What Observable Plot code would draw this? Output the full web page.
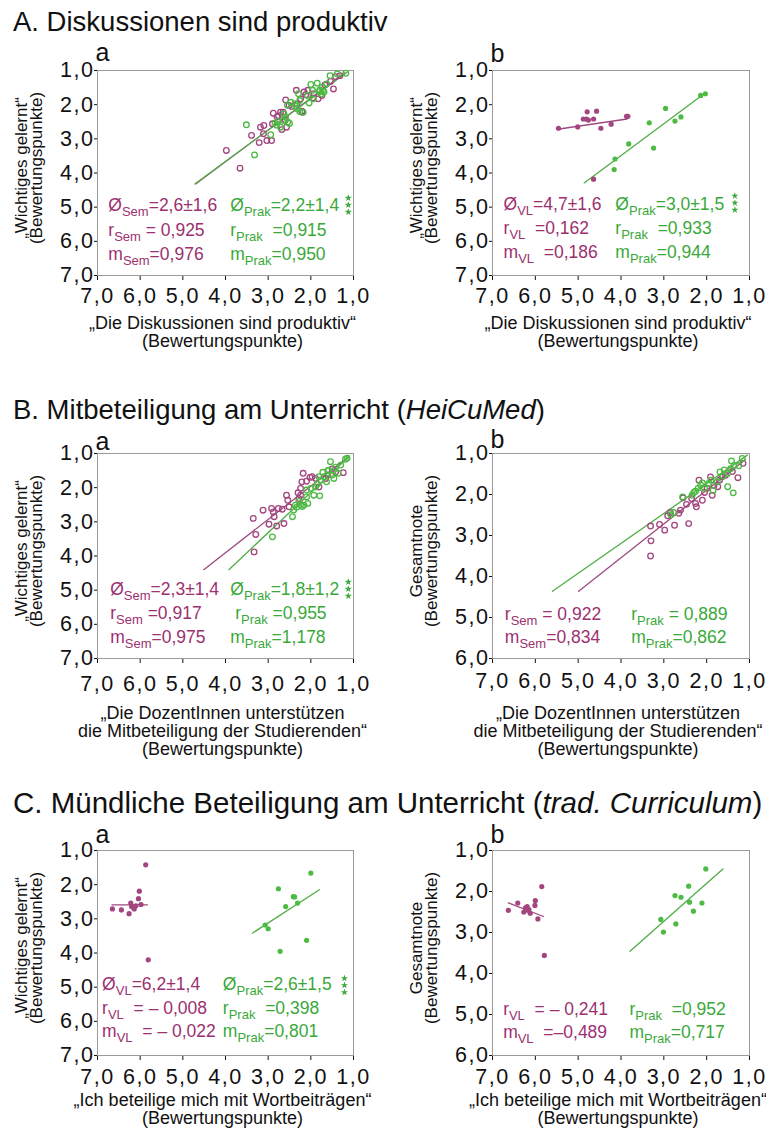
<!DOCTYPE html>
<html><head><meta charset="utf-8">
<script src="https://cdn.jsdelivr.net/npm/d3@7"></script>
<script src="https://cdn.jsdelivr.net/npm/@observablehq/plot@0.6"></script>
<style>
body{margin:0;background:#fff;font-family:"Liberation Sans",Arial,sans-serif;}
#page{position:relative;width:766px;height:1128px;overflow:hidden;background:#fff;}
.title{position:absolute;left:13px;color:#111;white-space:nowrap;line-height:1;}
.panel{position:absolute;width:383px;}
</style></head><body><div id="page"></div>
<script>
// ---------- tick values / labels ----------
const tickValues = [7, 6, 5, 4, 3, 2, 1];
const tickLabels = ["7,0", "6,0", "5,0", "4,0", "3,0", "2,0", "1,0"];

// ---------- section titles ----------
const titleA = ["A. Diskussionen sind produktiv"];
const titleB = ["B. Mitbeteiligung am Unterricht (", "HeiCuMed", ")"];
const titleC = ["C. Mündliche Beteiligung am Unterricht (", "trad. Curriculum", ")"];

// ---------- axis titles ----------
const xTitleA = "„Die Diskussionen sind produktiv“\n(Bewertungspunkte)";
const xTitleB = "„Die DozentInnen unterstützen\ndie Mitbeteiligung der Studierenden“\n(Bewertungspunkte)";
const xTitleC = "„Ich beteilige mich mit Wortbeiträgen“\n(Bewertungspunkte)";
const yTitleW = "„Wichtiges gelernt“\n(Bewertungspunkte)";
const yTitleG = "Gesamtnote\n(Bewertungspunkte)";

// ---------- A.a (open circles) ----------
const A_a_Sem = [[3.98,3.34],[3.66,3.86],[3.39,2.90],[3.21,3.11],[3.03,3.05],[2.92,3.05],[3.18,2.66],[3.10,2.61],[3.11,2.85],[2.90,2.56],[2.88,2.25],[2.71,2.22],[2.76,2.32],[2.68,2.73],[2.57,2.66],[2.59,1.86],[2.51,2.02],[2.34,1.58],[2.24,1.83],[2.16,1.63],[2.07,1.58],[2.12,1.71],[2.20,2.22],[1.93,1.68],[1.83,1.83],[1.67,1.42],[1.54,1.32],[1.42,1.18],[1.32,1.15],[2.32,1.99],[2.79,2.36],[2.45,2.05],[1.95,1.80],[2.60,2.45],[2.65,2.22],[2.21,2.19],[1.74,1.73],[1.47,1.54]];
const A_a_Prak = [[3.51,2.59],[3.32,3.47],[2.94,2.88],[2.84,2.54],[2.77,2.49],[2.71,2.66],[2.64,2.46],[2.59,2.37],[2.54,2.51],[2.55,2.02],[2.47,1.93],[2.37,1.97],[2.29,1.68],[2.32,2.12],[2.18,2.22],[2.26,1.88],[2.08,1.73],[2.04,1.95],[1.96,1.58],[1.94,1.83],[1.85,1.37],[1.79,1.57],[1.75,1.68],[1.69,1.63],[1.73,1.49],[1.63,1.39],[1.55,1.15],[1.18,1.08],[1.38,1.10],[2.63,2.27],[2.00,1.41],[2.80,2.60],[2.35,2.05],[1.80,1.62],[1.72,1.60],[2.50,2.55],[2.26,2.20]];
const A_a_SemFit = [[4.70,4.32],[1.20,1.07]];
const A_a_PrakFit = [[4.72,4.32],[1.15,1.05]];
const A_a_SemStats = [["Ø","Sem","=2,6±1,6"],["r","Sem"," = 0,925"],["m","Sem","=0,976"]];
const A_a_PrakStats = [["Ø","Prak","=2,2±1,4"],["r","Prak","  =0,915"],["m","Prak","=0,950"]];

// ---------- A.b (filled dots) ----------
const A_b_VL = [[5.46,2.69],[5.01,2.65],[4.88,2.42],[4.79,2.21],[4.81,2.42],[4.76,2.45],[4.64,2.42],[4.57,2.19],[4.47,2.69],[4.23,2.57],[3.87,2.34],[3.84,2.34],[4.64,4.18]];
const A_b_Prak = [[4.14,3.59],[4.16,3.90],[3.82,3.15],[3.34,2.53],[3.24,3.27],[2.96,2.11],[2.74,2.48],[2.60,2.36],[2.14,1.73],[2.03,1.68]];
const A_b_VLFit = [[5.48,2.72],[3.86,2.42]];
const A_b_PrakFit = [[4.86,4.29],[2.09,1.71]];
const A_b_VLStats = [["Ø","VL","=4,7±1,6"],["r","VL","  =0,162"],["m","VL","  =0,186"]];
const A_b_PrakStats = [["Ø","Prak","=3,0±1,5"],["r","Prak","  =0,933"],["m","Prak","=0,944"]];

// ---------- B.a (open circles) ----------
const B_a_Sem = [[3.33,3.88],[3.29,3.37],[3.35,2.90],[3.12,2.66],[2.98,3.07],[2.92,2.61],[2.86,2.85],[2.80,3.12],[2.88,2.71],[2.76,2.61],[2.67,2.63],[2.63,3.05],[2.57,2.22],[2.54,2.37],[2.51,2.56],[2.28,2.32],[2.24,2.02],[2.21,1.83],[2.18,1.58],[2.24,2.22],[2.10,1.81],[1.97,1.68],[1.89,1.73],[1.81,1.98],[1.61,1.63],[1.24,1.56],[1.42,1.54],[1.65,1.73],[2.30,2.15],[2.02,1.70],[1.50,1.45]];
const B_a_Prak = [[2.90,3.44],[2.43,2.85],[2.36,2.51],[2.33,2.57],[2.24,2.49],[2.16,2.51],[2.07,2.46],[2.10,2.07],[2.00,2.02],[1.93,2.22],[1.79,2.24],[1.89,1.98],[1.77,1.78],[1.69,1.68],[1.63,1.83],[1.58,1.49],[1.50,1.63],[1.46,1.73],[1.42,1.40],[1.36,1.58],[1.30,1.34],[1.19,1.17],[1.15,1.14],[1.54,1.24],[2.10,2.27],[1.81,1.68],[2.28,2.40],[2.20,2.55],[1.72,1.55],[1.60,1.50],[2.40,2.65],[1.85,1.90]];
const B_a_SemFit = [[4.51,4.40],[1.10,1.08]];
const B_a_PrakFit = [[3.92,4.40],[1.10,1.08]];
const B_a_SemStats = [["Ø","Sem","=2,3±1,4"],["r","Sem"," =0,917"],["m","Sem","=0,975"]];
const B_a_PrakStats = [["Ø","Prak","=1,8±1,2"],[" r","Prak"," =0,955"],["m","Prak","=1,178"]];

// ---------- B.b (open circles) ----------
const B_b_Sem = [[3.31,3.50],[3.30,3.13],[3.31,2.77],[3.10,2.73],[2.98,2.87],[2.75,2.75],[2.42,2.71],[2.91,2.52],[2.85,2.44],[2.65,2.46],[2.61,2.38],[2.55,2.08],[2.47,2.24],[2.35,2.10],[2.26,2.22],[2.24,2.30],[2.18,1.65],[2.10,2.14],[1.99,1.85],[1.87,2.02],[1.83,1.78],[1.91,1.57],[1.74,1.81],[1.64,1.57],[1.56,1.53],[1.27,1.59],[1.15,1.24],[1.40,1.44],[2.05,1.95],[1.70,1.65]];
const B_b_Prak = [[1.38,1.96],[1.51,1.81],[2.34,2.02],[2.26,1.92],[2.14,1.77],[2.05,1.85],[1.95,1.73],[1.85,1.90],[1.75,1.69],[1.69,1.45],[1.59,1.40],[1.51,1.49],[1.44,1.37],[1.36,1.29],[1.42,1.18],[1.17,1.12],[2.84,2.49],[2.77,2.44],[2.56,2.06],[2.30,1.95],[1.90,1.65],[1.62,1.55],[1.25,1.30],[2.20,1.85],[2.10,1.72]];
const B_b_SemFit = [[4.99,4.36],[1.10,1.15]];
const B_b_PrakFit = [[5.60,4.36],[1.05,1.04]];
const B_b_SemStats = [["r","Sem"," = 0,922"],["m","Sem","=0,834"]];
const B_b_PrakStats = [["r","Prak"," = 0,889"],["m","Prak","=0,862"]];

// ---------- C.a (filled dots) ----------
const C_a_VL = [[6.65,2.71],[6.44,2.74],[6.26,2.85],[6.22,2.54],[6.20,2.64],[6.14,2.71],[6.10,2.62],[6.04,2.41],[6.02,2.19],[5.98,2.58],[5.87,1.42],[5.81,4.20]];
const C_a_Prak = [[2.00,1.66],[2.76,2.12],[2.41,2.35],[2.38,2.36],[2.59,2.64],[2.31,2.54],[3.07,3.18],[3.00,3.29],[2.72,3.95],[2.10,3.63]];
const C_a_VLFit = [[6.66,2.59],[5.83,2.59]];
const C_a_PrakFit = [[3.37,3.42],[1.80,2.15]];
const C_a_VLStats = [["Ø","VL","=6,2±1,4"],["r","VL","  = – 0,008"],["m","VL","  = – 0,022"]];
const C_a_PrakStats = [["Ø","Prak","=2,6±1,5"],["r","Prak","  =0,398"],["m","Prak","=0,801"]];

// ---------- C.b (filled dots) ----------
const C_b_VL = [[6.63,2.46],[6.41,2.28],[6.23,2.40],[6.19,2.37],[6.17,2.46],[6.12,2.53],[6.00,2.22],[6.01,2.34],[5.94,2.67],[5.85,1.88],[5.79,3.56],[6.27,2.50],[6.15,2.44]];
const C_b_Prak = [[2.02,1.45],[2.42,1.87],[2.74,2.10],[2.60,2.14],[2.40,2.26],[2.11,2.28],[2.31,2.48],[3.07,2.68],[2.72,2.79],[3.01,2.99]];
const C_b_VLFit = [[6.63,2.28],[5.81,2.61]];
const C_b_PrakFit = [[3.79,3.46],[1.62,1.45]];
const C_b_VLStats = [["r","VL","  = – 0,241"],["m","VL","  =–0,489"]];
const C_b_PrakStats = [["r","Prak","  =0,952"],["m","Prak","=0,717"]];

// ---------- colours ----------
const PURPLE_TXT = "#9c3070", GREEN_TXT = "#3aa93a";
const PURPLE_DOT = "#a3467f", GREEN_DOT = "#4cba43";
const PURPLE_LINE = "#9d4a80", GREEN_LINE = "#4fae45";

const fmt = v => tickLabels[tickValues.indexOf(v)];

const panels = [
  {left:0,   frameTop:70,  yMax:7, letter:"a", letterDy:-10, xPad:7,  xTitle:xTitleA, xDy:41, yTitle:yTitleW, filled:false,
   s1:A_a_Sem, s2:A_a_Prak, f1:A_a_SemFit, f2:A_a_PrakFit, st1:A_a_SemStats, st2:A_a_PrakStats,
   p1:[6.735,5.13], p2:[3.876,5.13], step:24.5, stars:[1.11,4.95]},
  {left:383, frameTop:70,  yMax:7, letter:"b", letterDy:-9, xPad:7,  xTitle:xTitleA, xDy:41, yTitle:yTitleW, filled:true,
   s1:A_b_VL, s2:A_b_Prak, f1:A_b_VLFit, f2:A_b_PrakFit, st1:A_b_VLStats, st2:A_b_PrakStats,
   p1:[6.73,5.10], p2:[4.12,5.10], step:24, stars:[1.33,4.89]},
  {left:0,   frameTop:453, yMax:7, letter:"a", letterDy:-4, xPad:12, xTitle:xTitleB, xDy:48, yTitle:yTitleW, filled:false,
   s1:B_a_Sem, s2:B_a_Prak, f1:B_a_SemFit, f2:B_a_PrakFit, st1:B_a_SemStats, st2:B_a_PrakStats,
   p1:[6.69,5.15], p2:[3.876,5.15], step:24, stars:[1.11,4.98]},
  {left:383, frameTop:453, yMax:6, letter:"b", letterDy:-6, xPad:9, xTitle:xTitleB, xDy:48, yTitle:yTitleG, filled:false,
   s1:B_b_Sem, s2:B_b_Prak, f1:B_b_SemFit, f2:B_b_PrakFit, st1:B_b_SemStats, st2:B_b_PrakStats,
   p1:[6.70,5.07], p2:[3.75,5.07], step:23, stars:null},
  {left:0,   frameTop:850, yMax:7, letter:"a", letterDy:-8, xPad:8,  xTitle:xTitleC, xDy:38, yTitle:yTitleW, filled:true,
   s1:C_a_VL, s2:C_a_Prak, f1:C_a_VLFit, f2:C_a_PrakFit, st1:C_a_VLStats, st2:C_a_PrakStats,
   p1:[6.88,5.10], p2:[4.05,5.10], step:23.5, stars:[1.20,4.96]},
  {left:383, frameTop:850, yMax:6, letter:"b", letterDy:-8, xPad:8,  xTitle:xTitleC, xDy:38, yTitle:yTitleG, filled:true,
   s1:C_b_VL, s2:C_b_Prak, f1:C_b_VLFit, f2:C_b_PrakFit, st1:C_b_VLStats, st2:C_b_PrakStats,
   p1:[6.74,5.02], p2:[3.79,5.02], step:23.3, stars:null}
];

const page = document.getElementById("page");

function addStats(plot, pos, lines, color, step) {
  const sx = plot.scale("x"), sy = plot.scale("y");
  const x0 = sx.apply(pos[0]), y0 = sy.apply(pos[1]);
  const g = d3.select(plot).append("g")
    .attr("fill", color).attr("font-size", 17.5).attr("text-anchor", "start")
    .attr("font-family", "Liberation Sans, Arial, sans-serif");
  lines.forEach((L, i) => {
    const t = g.append("text").attr("x", x0).attr("y", y0 + i * step)
      .attr("text-anchor", "start")
      .style("white-space", "pre").style("letter-spacing", "0px");
    t.append("tspan").text(L[0]);
    t.append("tspan").attr("font-size", 13).attr("dy", 5).text(L[1]);
    t.append("tspan").attr("dy", -5).text(L[2]);
  });
}

// three stacked significance stars (small star symbols)
function addStars(plot, pos) {
  const sx = plot.scale("x"), sy = plot.scale("y");
  const x0 = sx.apply(pos[0]), yc = sy.apply(pos[1]);
  const sym = d3.symbol(d3.symbolStar, 16)();
  const g = d3.select(plot).append("g").attr("fill", GREEN_TXT);
  [-7, 0, 7].forEach(o => g.append("path").attr("d", sym)
    .attr("transform", `translate(${x0},${yc + o})`));
}

panels.forEach(p => {
  const isLeft = p.left === 0;
  const ml = isLeft ? 97 : 109, mr = isLeft ? 30 : 17;
  const mt = 36, fh = 205, mb = 100;
  const yTicks = tickValues.filter(v => v <= p.yMax);
  const dotOpts = (c) => p.filled
    ? {x: d => d[0], y: d => d[1], r: 2.6, fill: c, stroke: "none"}
    : {x: d => d[0], y: d => d[1], r: 2.8, stroke: c, strokeWidth: 1.3, fill: "none"};
  const plot = Plot.plot({
    width: 383, height: mt + fh + mb,
    marginLeft: ml, marginRight: mr, marginTop: mt, marginBottom: mb,
    style: {background: "transparent", overflow: "visible", fontFamily: "Liberation Sans, Arial, sans-serif", fontSize: "21.5px", color: "#111"},
    x: {domain: [7, 1], ticks: tickValues, tickFormat: fmt, tickSize: 5, tickPadding: p.xPad, label: null},
    y: {domain: [p.yMax, 1], ticks: yTicks, tickFormat: fmt, tickSize: 3, tickPadding: 0, label: null},
    marks: [
      Plot.frame({stroke: "#9a9a9a"}),
      Plot.line(p.f1, {x: d => d[0], y: d => d[1], stroke: PURPLE_LINE, strokeWidth: 1.3}),
      Plot.line(p.f2, {x: d => d[0], y: d => d[1], stroke: GREEN_LINE, strokeWidth: 1.3}),
      Plot.dot(p.s1, dotOpts(PURPLE_DOT)),
      Plot.dot(p.s2, dotOpts(GREEN_DOT)),
      Plot.text([p.xTitle], {text: d => d, frameAnchor: "bottom", lineAnchor: "top", textAnchor: "middle", dx: -3, dy: p.xDy, fontSize: 18, lineHeight: 1.0, fill: "#111"}),
      Plot.text([p.yTitle], {text: d => d, frameAnchor: "left", rotate: -90, textAnchor: "middle", lineAnchor: "middle", dx: -68, dy: -5, fontSize: 17, lineHeight: 0.9, fill: "#111"}),
      Plot.text([p.letter], {text: d => d, frameAnchor: "top-left", textAnchor: "start", lineAnchor: "bottom", dx: -2, dy: p.letterDy, fontSize: 25, fill: "#111"})
    ]
  });
  d3.select(plot).selectAll('g[aria-label$="axis"] text, g[aria-label*="tick label"] text')
    .style("letter-spacing", "1.5px");
  addStats(plot, p.p1, p.st1, PURPLE_TXT, p.step);
  addStats(plot, p.p2, p.st2, GREEN_TXT, p.step);
  if (p.stars) addStars(plot, p.stars);
  const div = document.createElement("div");
  div.className = "panel";
  div.style.left = p.left + "px";
  div.style.top = (p.frameTop - mt) + "px";
  div.appendChild(plot);
  page.appendChild(div);
});

function addTitle(parts, top, size) {
  const d = document.createElement("div");
  d.className = "title";
  d.style.top = top + "px";
  d.style.fontSize = size + "px";
  parts.forEach((t, i) => {
    const s = document.createElement("span");
    if (i === 1) s.style.fontStyle = "italic";
    s.textContent = t;
    d.appendChild(s);
  });
  page.appendChild(d);
}
addTitle(titleA, 8, 27.5);
addTitle(titleB, 396, 27.5);
addTitle(titleC, 788, 29.5);
</script></body></html>
